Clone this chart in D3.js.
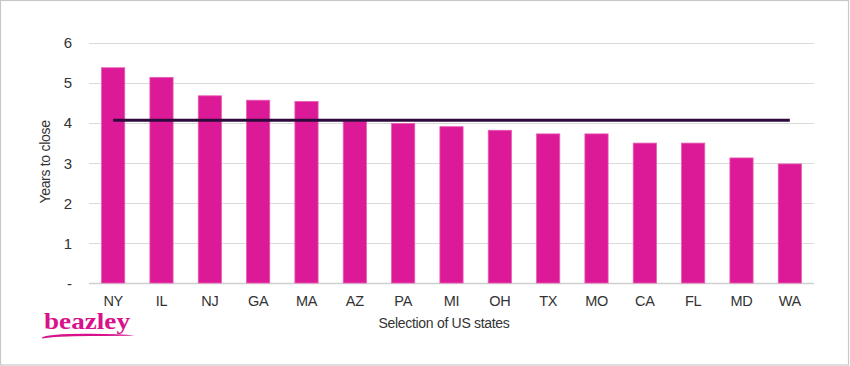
<!DOCTYPE html>
<html><head><meta charset="utf-8">
<script src="https://cdn.jsdelivr.net/npm/d3@7/dist/d3.min.js"></script>
<style>
html,body{margin:0;padding:0;background:#fff;}
svg{display:block;}
</style></head>
<body><svg id="c" width="850" height="366"></svg>
<script>
const states = ["NY","IL","NJ","GA","MA","AZ","PA","MI","OH","TX","MO","CA","FL","MD","WA"];
const yearsToClose = [5.37,5.13,4.67,4.56,4.53,4.04,3.98,3.90,3.81,3.72,3.72,3.49,3.49,3.12,2.97];
const averageYears = 4.06;
const yTicks = [0,1,2,3,4,5,6];
const yTickLabels = ["-","1","2","3","4","5","6"];

const SANS = "Liberation Sans, Arial, sans-serif";
const svg = d3.select("#c");
const W = 850, H = 366;
const m = {left:89, right:36, top:42.5, bottom:83};

svg.append("rect").attr("x",0.5).attr("y",0.5).attr("width",W-2).attr("height",H-1.5)
  .attr("fill","#fff").attr("stroke","#c8c8c8").attr("stroke-width",1.2);

const x = d3.scaleBand().domain(states).range([m.left, W-m.right]).paddingInner(0.52).paddingOuter(0.26);
const y = d3.scaleLinear().domain([0,6]).range([H-m.bottom, m.top]);

// gridlines
svg.append("g").selectAll("line").data(yTicks).join("line")
  .attr("x1",m.left).attr("x2",W-m.right)
  .attr("y1",d=>Math.round(y(d))+0.5).attr("y2",d=>Math.round(y(d))+0.5)
  .attr("stroke",d=>d===0?"#d0d0d0":"#dadada").attr("stroke-width",d=>d===0?1.5:1.2);

// y tick labels
const yAxis = d3.axisLeft(y).tickValues(yTicks).tickFormat((d,i)=>yTickLabels[i]).tickSize(0).tickPadding(0);
const ga = svg.append("g").attr("transform",`translate(72,0)`).call(yAxis);
ga.select(".domain").remove();
ga.selectAll("text").style("font-size","15px").style("fill","#333").style("font-family",SANS).attr("dy","0.35em");

// bars
svg.append("g").selectAll("rect").data(states).join("rect")
  .attr("x",d=>x(d)).attr("width",x.bandwidth())
  .attr("y",(d,i)=>y(yearsToClose[i])).attr("height",(d,i)=>y(0)-y(yearsToClose[i]))
  .attr("fill","#dc1a97").attr("stroke","#e85cb4").attr("stroke-width",0.8);

// average line
svg.append("line")
  .attr("x1",x(states[0])+x.bandwidth()/2).attr("x2",x(states[states.length-1])+x.bandwidth()/2)
  .attr("y1",y(averageYears)).attr("y2",y(averageYears))
  .attr("stroke","#2e0a3c").attr("stroke-width",3.2);

// x labels
const xAxis = d3.axisBottom(x).tickSize(0).tickPadding(0);
const gx = svg.append("g").attr("transform",`translate(0,${y(0)+18})`).call(xAxis);
gx.select(".domain").remove();
gx.selectAll("text").style("font-size","14.5px").style("fill","#333").style("font-family",SANS).attr("dy","0.35em").attr("letter-spacing","-0.3");

// axis titles
svg.append("text").attr("x",444).attr("y",328).attr("text-anchor","middle")
  .style("font-family",SANS).style("fill","#333").style("font-size","14px").attr("letter-spacing","-0.3").text("Selection of US states");
svg.append("text").attr("transform","translate(50,162) rotate(-90)").attr("text-anchor","middle")
  .style("font-family",SANS).style("fill","#333").style("font-size","14px").attr("letter-spacing","-0.3").text("Years to close");

// logo
svg.append("text").attr("x",44).attr("y",329)
  .style("font-family","Liberation Serif, DejaVu Serif, serif")
  .style("font-weight","bold").style("font-size","23px").style("fill","#d8118c")
  .attr("textLength",86).attr("lengthAdjust","spacingAndGlyphs").text("beazley");
svg.append("path").attr("d","M42,337.5 Q50,333.5 90,333.8 Q120,334 135,335.5 Q120,335.8 90,336 Q55,336.2 42,338.5 Z")
  .attr("fill","#d8118c");
</script></body></html>
